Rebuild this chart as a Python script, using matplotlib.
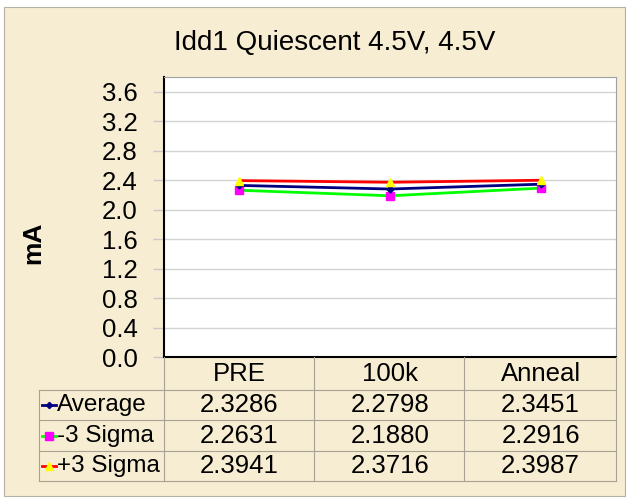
import matplotlib
matplotlib.use("Agg")
from matplotlib import pyplot as plt
from matplotlib.patches import Rectangle
from matplotlib.lines import Line2D
from matplotlib.transforms import blended_transform_factory

plt.rcParams['font.family'] = ['Liberation Sans', 'DejaVu Sans']

# data
categories = ["PRE", "100k", "Anneal"]
average = [2.3286, 2.2798, 2.3451]
minus3 = [2.2631, 2.1880, 2.2916]
plus3 = [2.3941, 2.3716, 2.3987]
series_names = ["Average", "-3 Sigma", "+3 Sigma"]
y_ticks = [0.0, 0.4, 0.8, 1.2, 1.6, 2.0, 2.4, 2.8, 3.2, 3.6]

W, H = 628, 498
paper = "#F7EDD2"
grid_col = "#A8A294"
fs = 18.5

fig = plt.figure(figsize=(W / 100, H / 100), dpi=100)
fig.patch.set_facecolor("white")


def fx(px):
    return px / W


def fy(py):
    return 1 - py / H


# parchment background with thin border
fig.add_artist(Rectangle((fx(4), fy(496)), fx(621), 489 / H, transform=fig.transFigure,
                         facecolor=paper, edgecolor="#B5B0A5", lw=0.8, zorder=0))

ax = fig.add_axes([fx(164), fy(357), fx(616 - 164), (357 - 77) / H])
ax.set_facecolor("white")

x = list(range(len(categories)))
styles = [
    dict(color="#000080", marker="D", mfc="#000080", mec="#000080", ms=3.5),
    dict(color="#00FF00", marker="s", mfc="#FF00FF", mec="#FF00FF", ms=6),
    dict(color="#FF0000", marker="^", mfc="#FFFF00", mec="#FFFF00", ms=6),
]
all_series = [average, minus3, plus3]
for vals, st, z in zip(all_series, styles, [4, 3, 5]):
    ax.plot(x, vals, lw=2, zorder=z, **st)

ax.set_xlim(-0.5, len(categories) - 0.5)
ax.set_ylim(0, 3.8)
ax.set_yticks(y_ticks)
ax.set_yticklabels(["%.1f" % v for v in y_ticks], fontsize=fs)
ax.tick_params(axis="y", length=8, width=1, color="#C8C8C8", pad=11)
ax.set_xticks([])
ax.grid(axis="y", color="#D4D4D4", lw=1)
ax.set_axisbelow(True)
for s in ["left", "bottom"]:
    ax.spines[s].set_color("black")
    ax.spines[s].set_linewidth(1.5)
for s in ["top", "right"]:
    ax.spines[s].set_color("#A0A0A0")
    ax.spines[s].set_linewidth(0.8)

fig.text(fx(33), fy(243), "mA", fontsize=19, fontweight="bold", rotation=90,
         ha="center", va="center")

fig.text(fx(335), fy(43), "Idd1 Quiescent 4.5V, 4.5V", fontsize=20, ha="center", va="center")

# data table below the plot
col_edges = [39, 164, 314, 464, 616]
row_edges = [357, 390, 420, 451, 481]

def hline(x0, x1, y):
    fig.add_artist(Line2D([fx(x0), fx(x1)], [fy(y), fy(y)], transform=fig.transFigure,
                          color=grid_col, lw=0.8))


def vline(xp, y0, y1):
    fig.add_artist(Line2D([fx(xp), fx(xp)], [fy(y0), fy(y1)], transform=fig.transFigure,
                          color=grid_col, lw=0.8))


for y in row_edges[1:]:
    hline(col_edges[0], col_edges[-1], y)
vline(col_edges[0], row_edges[1], row_edges[-1])
for xp in col_edges[1:]:
    vline(xp, row_edges[0], row_edges[-1])

bt = blended_transform_factory(ax.transData, fig.transFigure)
for i, c in enumerate(categories):
    fig.text(i, fy(374), c, transform=bt, fontsize=fs, ha="center", va="center")

row_centers = [405, 436, 466]
for name, vals, st, yc in zip(series_names, all_series, styles, row_centers):
    fig.add_artist(Line2D([fx(42), fx(56)], [fy(yc), fy(yc)], transform=fig.transFigure,
                          color=st["color"], lw=2))
    fig.add_artist(Line2D([fx(49)], [fy(yc)], transform=fig.transFigure, marker=st["marker"],
                          mfc=st["mfc"], mec=st["mec"], ms=st["ms"] * 0.9, lw=0))
    fig.text(fx(57), fy(yc), name, fontsize=17.5, ha="left", va="center")
    for i, v in enumerate(vals):
        fig.text(i, fy(yc), "%.4f" % v, transform=bt, fontsize=fs, ha="center", va="center")

fig.savefig("out.png", dpi=100)
